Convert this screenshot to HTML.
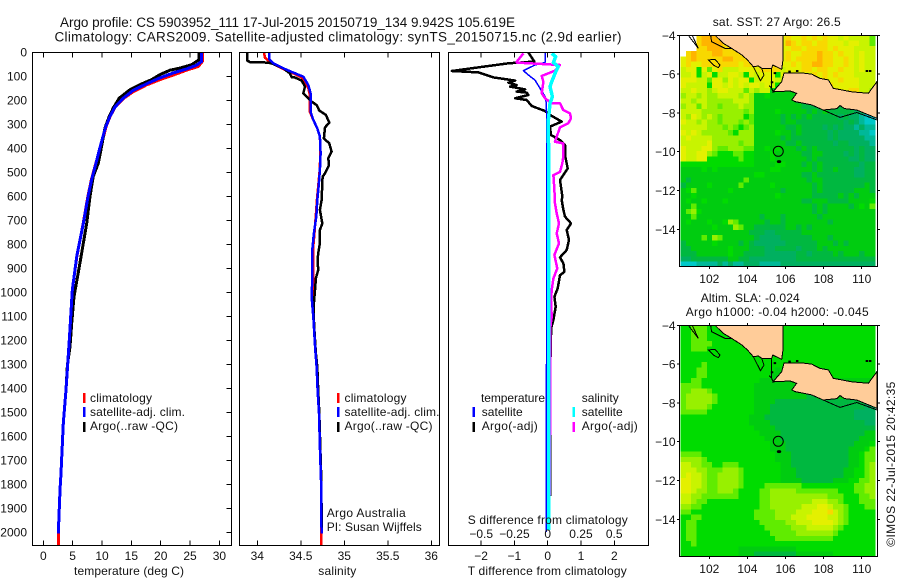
<!DOCTYPE html>
<html lang="en">
<head>
<meta charset="utf-8">
<title>Argo profile CS 5903952_111</title>
<style>
html,body{margin:0;padding:0;background:#fff;}
svg{display:block;}
text{font-family:"Liberation Sans",sans-serif;font-size:12px;fill:#111;}
.title{font-size:13.5px;}
</style>
</head>
<body>
<svg id="chart" xmlns="http://www.w3.org/2000/svg" width="900" height="580" viewBox="0 0 900 580">
<rect x="0" y="0" width="900" height="580" fill="#fff"/>
<text class="title" x="60" y="27" textLength="455" lengthAdjust="spacing">Argo profile: CS 5903952_111 17-Jul-2015 20150719_134 9.942S 105.619E</text>
<text class="title" x="54.5" y="41.5" textLength="567" lengthAdjust="spacing">Climatology: CARS2009. Satellite-adjusted climatology: synTS_20150715.nc (2.9d earlier)</text>

<g id="temp-layer"></g>
<rect x="32.5" y="52.5" width="199" height="493" fill="none" stroke="#000" shape-rendering="crispEdges"/>
<text x="74" y="575" textLength="110" lengthAdjust="spacing">temperature (deg C)</text>
<rect x="83" y="393" width="2.5" height="10" fill="#f00"/>
<rect x="83" y="407" width="2.5" height="10" fill="#00f"/>
<rect x="83" y="422" width="2.5" height="10" fill="#000"/>
<text x="90" y="402" textLength="62" lengthAdjust="spacing">climatology</text>
<text x="90" y="416" textLength="95" lengthAdjust="spacing">satellite-adj. clim.</text>
<text x="90" y="430" textLength="88" lengthAdjust="spacing">Argo(..raw -QC)</text>

<g id="sal-layer"></g>
<rect x="239.5" y="52.5" width="200" height="493" fill="none" stroke="#000" shape-rendering="crispEdges"/>
<text x="318.3" y="575" textLength="38" lengthAdjust="spacing">salinity</text>
<rect x="337" y="393" width="2.5" height="10" fill="#f00"/>
<rect x="337" y="407" width="2.5" height="10" fill="#00f"/>
<rect x="337" y="422" width="2.5" height="10" fill="#000"/>
<text x="344.5" y="402" textLength="62" lengthAdjust="spacing">climatology</text>
<text x="344.5" y="416" textLength="95" lengthAdjust="spacing">satellite-adj. clim.</text>
<text x="344.5" y="430" textLength="88" lengthAdjust="spacing">Argo(..raw -QC)</text>
<text x="326.7" y="517" textLength="79" lengthAdjust="spacing">Argo Australia</text>
<text x="326.7" y="531" textLength="95" lengthAdjust="spacing">PI: Susan Wijffels</text>

<g id="diff-layer"></g>
<rect x="448.5" y="52.5" width="200" height="493" fill="none" stroke="#000" shape-rendering="crispEdges"/>
<text x="467.7" y="575" textLength="159" lengthAdjust="spacing">T difference from climatology</text>
<text x="467.7" y="524" textLength="160" lengthAdjust="spacing">S difference from climatology</text>
<text x="481" y="402" textLength="64" lengthAdjust="spacing">temperature</text>
<text x="481.7" y="416" textLength="41" lengthAdjust="spacing">satellite</text>
<text x="481.7" y="430" textLength="56" lengthAdjust="spacing">Argo(-adj)</text>
<text x="581.7" y="402" textLength="37" lengthAdjust="spacing">salinity</text>
<text x="581.7" y="416" textLength="41" lengthAdjust="spacing">satellite</text>
<text x="581.7" y="430" textLength="56" lengthAdjust="spacing">Argo(-adj)</text>
<rect x="472.5" y="407" width="2.5" height="10" fill="#00f"/>
<rect x="472.5" y="422" width="2.5" height="10" fill="#000"/>
<rect x="572.5" y="407" width="2.5" height="10" fill="#0ff"/>
<rect x="572.5" y="422" width="2.5" height="10" fill="#f0f"/>

<text x="712.7" y="26" textLength="128" lengthAdjust="spacing">sat. SST: 27 Argo: 26.5</text>
<g id="sst-layer"></g>
<text x="700.7" y="302" textLength="99" lengthAdjust="spacing">Altim. SLA: -0.024</text>
<text x="685.7" y="316" textLength="183" lengthAdjust="spacing">Argo h1000: -0.04 h2000: -0.045</text>
<g id="sla-layer"></g>
<text transform="translate(895 546.7) rotate(-90)" x="0" y="0" textLength="165" lengthAdjust="spacing">©IMOS 22-Jul-2015 20:42:35</text>
</svg>

<script>
// ---------- axis tick values ----------
const depthTicks = [0,100,200,300,400,500,600,700,800,900,1000,1100,1200,1300,1400,1500,1600,1700,1800,1900,2000];
const tempTicks = [0,5,10,15,20,25,30];
const salinityTicks = [34,34.5,35,35.5,36];
const tDiffTicks = [-2,-1,0,1,2];
const sDiffTicks = [-0.5,-0.25,0,0.25,0.5];
const sDiffTickLabels = ["−0.5","−0.25","0","0.25","0.5"];
const lonTicks = [102,104,106,108,110];
const latTicks = [-4,-6,-8,-10,-12,-14];

// ---------- temperature profiles ----------
const tempClimDepths = [0,39,60,76,96,115,137,165,194,229,268,310,344,407,476,532,601,714,853,992,1200,1408,1547,1755,1825,1900,2004,2054];
const tempClimValues = [27.1,27.1,26.4,24.4,22.17,19.88,17.6,15.33,13.63,12.25,11.4,10.7,10.35,9.6,8.8,8.2,7.6,6.8,5.7,4.94,4.43,3.87,3.41,3.02,2.85,2.73,2.55,2.55];
const tempArgoDepths = [0,32,53,67,76,94,115,136,157,192,233,268,316,393,462,518,601,714,895,1019,1130,1228,1304,1408,1547,1755];
const tempArgoValues = [26.53,26.53,25.28,23.29,21.58,19.88,18.46,16.47,14.77,12.95,11.93,11.25,10.51,9.94,9.38,8.52,7.95,7.39,6.13,5.23,4.84,4.55,4.1,3.87,3.41,3.02];
const tempSatDepths = [0,39,55,71,87,108,132,160,192,229,268,310,344,407,476,532,601,714,853,992,1200,1408,1547,1755,1825,1900,2006];
const tempSatValues = [26.97,26.97,26.11,24.4,22.17,19.85,17.63,15.3,13.64,12.21,11.37,10.66,10.25,9.55,8.84,8.23,7.63,6.81,5.69,4.94,4.43,3.87,3.41,3.02,2.85,2.73,2.55];

// ---------- salinity profiles ----------
const salClimDepths = [3,24,47,68,86,106,150,172,249,283,318,353,422,492,561,617,672,742,825,1033,1103,1172,1242,1311,1408,1506,1644,1783,1922,2054];
const salClimValues = [34.077,34.088,34.165,34.28,34.395,34.51,34.586,34.6,34.605,34.644,34.69,34.72,34.725,34.717,34.70,34.685,34.675,34.66,34.64,34.64,34.645,34.655,34.667,34.682,34.693,34.709,34.72,34.732,34.733,34.737];
const salArgoDepths = [3,36,42,44,50,68,89,106,106,119,144,172,193,207,221,244,262,294,314,360,381,415,443,471,506,519,617,658,714,742,797,839,867,908,943,992,1047,1117,1172,1256,1311,1408,1506,1644,1783,1922,2000];
const salArgoValues = [33.885,33.885,33.916,34.126,34.184,34.299,34.375,34.395,34.43,34.51,34.548,34.529,34.586,34.625,34.682,34.713,34.789,34.828,34.778,34.766,34.828,34.854,34.816,34.824,34.778,34.751,34.739,34.72,34.747,34.72,34.72,34.7,34.693,34.7,34.674,34.663,34.651,34.651,34.659,34.674,34.69,34.7,34.713,34.724,34.736,34.739,34.739];
const salSatDepths = [3,31,47,68,86,103,138,172,249,283,318,353,422,492,561,617,686,755,825,1033,1103,1172,1242,1311,1408,1506,1644,1783,1922,2006];
const salSatValues = [34.138,34.138,34.184,34.299,34.414,34.529,34.586,34.613,34.613,34.644,34.69,34.72,34.728,34.72,34.705,34.69,34.678,34.651,34.632,34.628,34.644,34.655,34.667,34.682,34.693,34.709,34.72,34.732,34.736,34.739];

// ---------- temperature / salinity differences ----------
const dTempArgoDepths = [3,40,47,79,85,106,119,128,138,144,156,165,169,179,193,200,225,246,262,290,311,346,367,388,429,485,533,603,617,658,686,714,742,783,825,856,881,916,930,985,1020,1061,1117,1152,1180,1367,1850];
const dTempArgoValues = [-0.58,-0.40,-1.18,-2.88,-2.08,-1.63,-0.98,-1.18,-0.93,-1.13,-0.68,-0.93,-0.63,-0.58,-0.98,-0.63,-0.48,-0.08,0.07,0.42,0.07,0.10,0.37,0.52,0.52,0.60,0.37,0.44,0.42,0.47,0.52,0.70,0.57,0.64,0.57,0.37,0.47,0.50,0.37,0.30,0.20,0.24,0.17,0.10,0.10,0.07,0.07];
const dTempSatDepths = [3,44,54,78,96,117,151,186,214,249,367,783,1300,2000];
const dTempSatValues = [-0.08,-0.08,-0.38,-0.73,-0.58,-0.38,-0.23,-0.08,-0.04,-0.035,-0.035,-0.035,-0.035,-0.04];
const dSalArgoDepths = [6,40,44,54,78,100,124,172,193,214,214,242,256,276,297,314,353,374,381,436,464,499,513,575,631,672,714,756,797,846,902,943,992,1034,1103,1145,1400,1950];
const dSalArgoValues = [-0.1825,-0.2325,-0.2325,0.0925,0.055,-0.045,-0.0325,-0.045,-0.02,0.03,0.0925,0.1175,0.1675,0.175,0.155,0.0925,0.0675,0.055,0.1175,0.1175,0.11,0.0925,0.0425,0.05,0.055,0.0675,0.085,0.0675,0.085,0.05,0.0725,0.0425,0.03,0.025,0.03,0.02,0.02,0.012];
const dSalSatDepths = [6,19,44,61,89,124,144,186,214,283,367,436,506,1000,1500,1992];
const dSalSatValues = [0.03,0.06,0.0425,0.08,0.055,0.03,0.0175,0.035,0.0175,0.005,0.005,0.01,0.0075,0.0075,0.0075,0.0075];

// ---------- map grids (each character is one gridded value on the colour scale; '.' = no data) ----------
const sstRows = [
"...abbbaaaaaaaaaaaa9a99a9a9a998988886",
"...abbbbaaaaaaaaaaa9ba9aa9aa999899886",
"...aabbbaaaaaaaaaaa99aa9aaaa9a9998888",
".abaaabbaaaaaaaaaaa9a99aaabaa9a998988",
"9abaaaaabbaaaaaaaaa9a9aaaabaa99a98988",
"9a99aaaaaaa9aaaaaaa99a9aabbaa99a98988",
"8995969a8889999aaaa8999aa9aa99a998988",
"88958958899859899959 89999a9a9a9998888".replace(" ","").slice(0,19) + "989999a9a9a9998888",
"9998869979899589998" + "88899999a99a999888",
"9888859989898998985" + "8999a99a9a99999888",
"88988789988868788" + "45444544" + "aaa9a99aa887",
"7887877888878744544" + "444444aaaaaaaaaaaa",
"8878877777888744444444333333333333333",
"7886877677787744444444433333333333333",
"8888777777776744445444443434333332210",
"8798787677775644444343434333332322100",
"9887877677767644444344333333333232100",
"8888877767656744444433433332323221211",
"9898777776577744445443433333232222110",
"8988887777777744444343333333232222211",
"8888897777767744444433433333323322221",
"9888997667776644545444343433333332322",
"9889976555665544454444433443333232322",
"9889955555565544454444443433333322322",
"5555555555555544445544434343333333233",
"4444545444444444455444444343343332233",
"4444444444444455444444433433333332233",
"4344444444446444444444443443333333333",
"3444454444464444454444444343333333343",
"4564444445444444444344444343333334443",
"4454444444444444445444444333334343444",
"4544544454444444444444433444333344445",
"4464444444444444444444444343444434546",
"4675444444444444444444444343444444444",
"4464444444444443444344444434444444444",
"4544454457644444344344444444344444444",
"4444445444764433333344343444444444444",
"4444444444444333223333344444444444444",
"4444647644444432222333333444344444444",
"3444445444434322222233333344434344444",
"3344444445444333223333233343444444444",
"3334444445443333222222332333343444344",
"2233333334433222222222333333333333333",
"0001111212112221111222222222222222222"
];
const slaRows = [
"5566655555555555555555555555555555555",
"5566655555555555555555555555555555555",
"5566655555555555555555555555555555555",
"5566665555555555555555555555555555555",
"5566655555555555555555555555555555555",
"5555555555555555555555555555555555555",
"5555555555555555555555555555555555555",
"5555655555555555555555555555555555555",
"5556655555555555554555555555555555555",
"5556655555555555544555555555555555555",
"5566555555555554444444444444444444444",
"6666555555555544444444444444444444444",
"6677765555555544444444444444444444444",
"6777776555555544444444443344444444444",
"6777776555555544443333333333333333333",
"6777765555555544433333333333333333322",
"6666655555555544433333333333333332222",
"5555555555555444333333333333333332222",
"5555555555555444433333333333333333322",
"5555555555555544443333333333333333333",
"5555555555555554444333333333333333344",
"5555555555555555444333333333333333444",
"5555555555555555544433333333333334445",
"5555555555555555544433333333333344456",
"6666555555555555554443333333333344566",
"7777655555555555554443333333333344566",
"8877665566655555555443333333333344567",
"8887766677765555555444333333333445567",
"8988766777765555555444333333333445567",
"9988766777765555555444433333344455667",
"9988766777765555666666655555555556677",
"9987766777655556677777666666665556677",
"8877666666655556677777777777666555667",
"8876655555555556677777777888776555666",
"7766555555555556677777788899877655566",
"6655555555555566667777888999a87655555",
"5566555555555566667778889999887655555",
"5665555555555556666677888999987655555",
"5665555555555555666667778888876555555",
"5665555555555555566666777777765555555",
"5665555555555555556666666666655555555",
"5565555555555555555555555555555555555",
"5555555555544444444444555555555555555",
"5555555555544433333333444444455555555"
];

// ---------- coastline and feature coordinates (lon, lat) ----------
const sumatraLons = [102.3,102.73,103.17,103.7,104.0,104.31,104.57,104.75,105.27,105.33,105.8,105.87,105.88];
const sumatraLats = [-4,-4.41,-4.67,-5.01,-5.27,-5.62,-5.58,-5.7,-5.7,-5.53,-5.75,-5.27,-4];
const javaLons = [105.34,105.8,105.92,106.92,107.37,107.81,108.25,108.51,109.47,110.35,110.8,110.8,109.74,109.1,108.86,108.7,107.98,107.37,106.5,106.33,106.59,106.24,105.36];
const javaLats = [-6.92,-6.39,-5.95,-5.95,-6.0,-6.22,-6.3,-6.73,-6.91,-6.99,-6.39,-8.28,-7.85,-7.78,-7.62,-7.78,-7.85,-7.59,-7.42,-7.33,-6.99,-6.87,-6.91];
const javaShelfLons = [107.98,108.86,109.74,110.8];
const javaShelfLats = [-7.85,-8.23,-7.98,-8.36];
const sumatraShelfLons = [102.07,102.12,102.82,103.17];
const sumatraShelfLats = [-4,-4.33,-4.67,-4.67];
const mentawaiLons = [100.9,101.42,101.1];
const mentawaiLats = [-4,-4.67,-4];
const islandLons = [101.95,102.3,102.56,102.47,102.21];
const islandLats = [-5.27,-5.24,-5.53,-5.67,-5.53];
const bayLons = [104.31,104.69,104.87,104.75];
const bayLats = [-5.62,-6.34,-6.05,-5.7];
const straitLons = [105.27,105.27,105.15,105.27,105.36];
const straitLats = [-5.7,-6.73,-6.6,-6.73,-6.91];
const shoalLons = [106.6,106.2,110.26,110.43,105.28,105.43];
const shoalLats = [-5.84,-5.87,-5.84,-5.84,-6.42,-5.95];
const argoFloatLon = 105.62;
const argoFloatLat = -9.98;
const christmasLon = 105.66;
const christmasLat = -10.51;

// ---------- scales ----------
const cellPalette = {"0":"#00c8c8","1":"#00b898","2":"#00b060","3":"#00b840","4":"#00cc10","5":"#00dc00","6":"#60ec00","7":"#98f000","8":"#c8f400","9":"#e4f000","a":"#f8d800","b":"#ffb400"};
const NS = "http://www.w3.org/2000/svg";
const cellLon = 0.2756;
const cellLat = 0.2712;
const firstCellLon = 100.5;
function depthY(d){ return 52 + d * 0.24; }
function tempX(t){ return 43.3 + t * 5.87; }
function salX(s){ return 257.3 + (s - 34) * 87; }
function tDiffX(t){ return 547.7 + t * 33.3; }
function sDiffX(s){ return 547.7 + s * 133; }
function lonX(lon){ return 709.3 + (lon - 102) * 19.05; }
function latY(lat, top){ return top + (-4 - lat) * 19.4; }
function signed(v){ return String(v).replace("-", "\u2212"); }

function make(tag, attrs, parent){
  const el = document.createElementNS(NS, tag);
  for (const k in attrs) el.setAttribute(k, attrs[k]);
  parent.appendChild(el);
  return el;
}
function addLine(parent, name, x1, y1, x2, y2){
  const el = make("line", {x1:x1, y1:y1, x2:x2, y2:y2, stroke:"#000", "shape-rendering":"crispEdges"}, parent);
  
  
  return el;
}
function addLabel(parent, name, str, x, y, anchor){
  const el = make("text", {x:x, y:y, "text-anchor":anchor}, parent);
  el.textContent = str;
  
  
  return el;
}
function addProfile(parent, name, values, depths, xFn, color, width){
  const pts = values.map(function(v, i){ return xFn(v).toFixed(1) + "," + depthY(depths[i]).toFixed(1); }).join(" ");
  const el = make("polyline", {points:pts, fill:"none", stroke:color, "stroke-width":width, "stroke-linejoin":"round", "shape-rendering":"crispEdges"}, parent);
  
  
  return el;
}
function addCoast(parent, name, lons, lats, top, fill, closed){
  const pts = lons.map(function(lon, i){ return lonX(lon).toFixed(1) + "," + latY(lats[i], top).toFixed(1); }).join(" ");
  const el = make(closed ? "polygon" : "polyline", {points:pts, fill:fill, stroke:"#000", "stroke-width":1, "shape-rendering":"crispEdges"}, parent);
  
  
  return el;
}

// ---------- temperature panel ----------
const tempLayer = document.getElementById("temp-layer");
addProfile(tempLayer, "temperature-climatology-line", tempClimValues, tempClimDepths, tempX, "#f00", 3);
addProfile(tempLayer, "temperature-argo-line", tempArgoValues, tempArgoDepths, tempX, "#000", 3);
addProfile(tempLayer, "temperature-satellite-line", tempSatValues, tempSatDepths, tempX, "#00f", 3);
depthTicks.forEach(function(d){
  addLine(tempLayer, "depth-tick", 226.5, depthY(d) + 0.5, 231.5, depthY(d) + 0.5);
  addLabel(tempLayer, "depth-tick-label", String(d), 27, depthY(d) + 4.5, "end");
});
tempTicks.forEach(function(t){
  addLine(tempLayer, "temperature-tick-top", tempX(t), 52.5, tempX(t), 57.5);
  addLine(tempLayer, "temperature-tick-bottom", tempX(t), 540.5, tempX(t), 545.5);
  addLabel(tempLayer, "temperature-tick-label", String(t), tempX(t), 560, "middle");
});

// ---------- salinity panel ----------
const salLayer = document.getElementById("sal-layer");
addProfile(salLayer, "salinity-climatology-line", salClimValues, salClimDepths, salX, "#f00", 2.5);
addProfile(salLayer, "salinity-argo-line", salArgoValues, salArgoDepths, salX, "#000", 2.5);
addProfile(salLayer, "salinity-satellite-line", salSatValues, salSatDepths, salX, "#00f", 2.5);
salinityTicks.forEach(function(s){
  addLine(salLayer, "salinity-tick-top", salX(s), 52.5, salX(s), 57.5);
  addLine(salLayer, "salinity-tick-bottom", salX(s), 540.5, salX(s), 545.5);
  addLabel(salLayer, "salinity-tick-label", String(s), salX(s), 560, "middle");
});

// ---------- difference panel ----------
const diffLayer = document.getElementById("diff-layer");
addProfile(diffLayer, "t-difference-argo-line", dTempArgoValues, dTempArgoDepths, tDiffX, "#000", 2.5);
addProfile(diffLayer, "t-difference-satellite-line", dTempSatValues, dTempSatDepths, tDiffX, "#00f", 1.5);
addProfile(diffLayer, "s-difference-argo-line", dSalArgoValues, dSalArgoDepths, sDiffX, "#f0f", 2.5);
addProfile(diffLayer, "s-difference-satellite-line", dSalSatValues, dSalSatDepths, sDiffX, "#0ff", 3.5);
tDiffTicks.forEach(function(t){
  addLine(diffLayer, "t-difference-tick-top", tDiffX(t), 52.5, tDiffX(t), 57.5);
  addLine(diffLayer, "t-difference-tick-bottom", tDiffX(t), 540.5, tDiffX(t), 545.5);
  addLabel(diffLayer, "t-difference-tick-label", signed(t), tDiffX(t), 560, "middle");
});
sDiffTicks.forEach(function(s, i){
  addLabel(diffLayer, "s-difference-tick-label", sDiffTickLabels[i], sDiffX(s), 538, "middle");
});

// ---------- maps ----------
function drawMap(layerId, prefix, rows, top, frameTop){
  const layer = document.getElementById(layerId);
  rows.forEach(function(row, r){
    for (let c = 0; c < row.length; c++){
      const ch = row.charAt(c);
      if (!cellPalette[ch]) continue;
      const x0 = lonX(firstCellLon + c * cellLon);
      const y0 = latY(-4 - r * cellLat, top);
      const x1 = lonX(firstCellLon + (c + 1) * cellLon);
      const y1 = latY(-4 - (r + 1) * cellLat, top);
      const cell = make("rect", {x:x0.toFixed(2), y:y0.toFixed(2), width:(x1 - x0 + 0.4).toFixed(2), height:(y1 - y0 + 0.4).toFixed(2), fill:cellPalette[ch], "shape-rendering":"crispEdges"}, layer);
      
      
    }
  });
  addCoast(layer, prefix + "-sumatra-land", sumatraLons, sumatraLats, top, "#ffcc99", true);
  addCoast(layer, prefix + "-java-land", javaLons, javaLats, top, "#ffcc99", true);
  addCoast(layer, prefix + "-java-shelf-line", javaShelfLons, javaShelfLats, top, "none", false);
  addCoast(layer, prefix + "-sumatra-shelf-line", sumatraShelfLons, sumatraShelfLats, top, "none", false);
  addCoast(layer, prefix + "-mentawai-island", mentawaiLons, mentawaiLats, top, "none", false);
  addCoast(layer, prefix + "-enggano-island", islandLons, islandLats, top, "none", true);
  addCoast(layer, prefix + "-semangka-bay", bayLons, bayLats, top, "none", false);
  addCoast(layer, prefix + "-sunda-strait", straitLons, straitLats, top, "none", false);
  shoalLons.forEach(function(lon, i){
    const dot = make("rect", {x:lonX(lon) - 1, y:latY(shoalLats[i], top) - 1, width:2.5, height:2, fill:"#000"}, layer);
    
    
  });
  const marker = make("circle", {cx:lonX(argoFloatLon), cy:latY(argoFloatLat, top), r:5, fill:"none", stroke:"#000", "stroke-width":1}, layer);
  
  
  const island = make("ellipse", {cx:lonX(christmasLon), cy:latY(christmasLat, top), rx:2.2, ry:1.5, fill:"#000"}, layer);
  
  
  const frame = make("rect", {x:679.5, y:frameTop, width:198, height:231, fill:"none", stroke:"#000", "shape-rendering":"crispEdges"}, layer);
  
  
  lonTicks.forEach(function(lon){
    addLine(layer, prefix + "-lon-tick-top", lonX(lon), frameTop - 2.5, lonX(lon), frameTop);
    addLine(layer, prefix + "-lon-tick-bottom", lonX(lon), frameTop + 231, lonX(lon), frameTop + 233.5);
    addLabel(layer, prefix + "-lon-tick-label", String(lon), lonX(lon), frameTop + 247.5, "middle");
  });
  latTicks.forEach(function(lat){
    addLine(layer, prefix + "-lat-tick-left", 677, latY(lat, top), 679.5, latY(lat, top));
    addLine(layer, prefix + "-lat-tick-right", 877.5, latY(lat, top), 880, latY(lat, top));
    addLabel(layer, prefix + "-lat-tick-label", signed(lat), 675.5, latY(lat, top) + 4.5, "end");
  });
}
drawMap("sst-layer", "sst", sstRows, 35.3, 35.5);
drawMap("sla-layer", "sla", slaRows, 325.3, 325.5);
</script>
</body>
</html>
